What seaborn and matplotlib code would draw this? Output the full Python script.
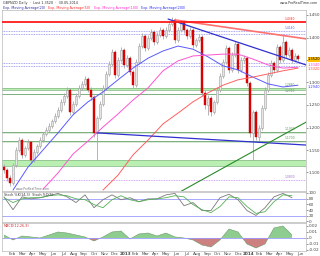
import numpy as np
import pandas as pd
import matplotlib
matplotlib.use("Agg")
import matplotlib.pyplot as plt
import seaborn as sns

# ---------------- data ----------------
opens = [1.112, 1.106, 1.088, 1.077, 1.117, 1.150, 1.172, 1.139, 1.154, 1.168,
         1.128, 1.146, 1.159, 1.172, 1.186, 1.194, 1.203, 1.214, 1.226, 1.239,
         1.257, 1.270, 1.283, 1.234, 1.252, 1.270, 1.288, 1.297, 1.308, 1.283,
         1.268, 1.188, 1.221, 1.252, 1.288, 1.319, 1.341, 1.368, 1.317, 1.350,
         1.372, 1.339, 1.354, 1.323, 1.294, 1.346, 1.381, 1.403, 1.377, 1.399,
         1.412, 1.390, 1.406, 1.417, 1.403, 1.417, 1.430, 1.439, 1.394, 1.417,
         1.434, 1.417, 1.403, 1.417, 1.383, 1.394, 1.401, 1.277, 1.250, 1.266,
         1.234, 1.257, 1.283, 1.314, 1.346, 1.377, 1.328, 1.361, 1.386, 1.328,
         1.350, 1.354, 1.299, 1.188, 1.234, 1.179, 1.199, 1.243, 1.283, 1.317,
         1.343, 1.328, 1.379, 1.350, 1.390, 1.361, 1.372, 1.350, 1.359]
closes = [1.106, 1.088, 1.077, 1.117, 1.150, 1.172, 1.139, 1.154, 1.168, 1.128,
          1.146, 1.159, 1.172, 1.186, 1.194, 1.203, 1.214, 1.226, 1.239, 1.257,
          1.270, 1.283, 1.234, 1.252, 1.270, 1.288, 1.297, 1.308, 1.283, 1.268,
          1.188, 1.221, 1.252, 1.288, 1.319, 1.341, 1.368, 1.317, 1.350, 1.372,
          1.339, 1.354, 1.323, 1.294, 1.346, 1.381, 1.403, 1.377, 1.399, 1.412,
          1.390, 1.406, 1.417, 1.403, 1.417, 1.430, 1.439, 1.394, 1.417, 1.434,
          1.417, 1.403, 1.417, 1.383, 1.394, 1.401, 1.277, 1.250, 1.266, 1.234,
          1.257, 1.283, 1.314, 1.346, 1.377, 1.328, 1.361, 1.386, 1.328, 1.350,
          1.354, 1.299, 1.188, 1.234, 1.179, 1.199, 1.243, 1.283, 1.317, 1.343,
          1.328, 1.379, 1.350, 1.390, 1.361, 1.372, 1.350, 1.359, 1.352]
highs = [1.118, 1.110, 1.094, 1.122, 1.156, 1.178, 1.176, 1.160, 1.174, 1.171,
         1.152, 1.164, 1.178, 1.191, 1.201, 1.209, 1.220, 1.232, 1.245, 1.263,
         1.276, 1.290, 1.288, 1.258, 1.276, 1.294, 1.304, 1.314, 1.312, 1.289,
         1.272, 1.226, 1.258, 1.294, 1.325, 1.347, 1.374, 1.372, 1.356, 1.379,
         1.376, 1.360, 1.358, 1.327, 1.352, 1.387, 1.409, 1.408, 1.405, 1.418,
         1.416, 1.412, 1.423, 1.421, 1.423, 1.436, 1.446, 1.444, 1.423, 1.440,
         1.438, 1.421, 1.423, 1.421, 1.400, 1.407, 1.405, 1.283, 1.272, 1.270,
         1.262, 1.289, 1.320, 1.352, 1.384, 1.382, 1.367, 1.393, 1.390, 1.356,
         1.361, 1.358, 1.303, 1.240, 1.238, 1.205, 1.249, 1.289, 1.323, 1.349,
         1.348, 1.385, 1.384, 1.408, 1.395, 1.378, 1.376, 1.365, 1.364]
lows = [1.099, 1.082, 1.070, 1.073, 1.112, 1.145, 1.133, 1.135, 1.149, 1.122,
        1.124, 1.141, 1.155, 1.168, 1.181, 1.189, 1.198, 1.209, 1.221, 1.234,
        1.251, 1.265, 1.228, 1.230, 1.247, 1.266, 1.283, 1.292, 1.278, 1.262,
        1.180, 1.128, 1.216, 1.247, 1.283, 1.314, 1.336, 1.311, 1.312, 1.345,
        1.333, 1.334, 1.317, 1.288, 1.290, 1.341, 1.376, 1.371, 1.372, 1.394,
        1.384, 1.385, 1.401, 1.397, 1.398, 1.412, 1.425, 1.388, 1.389, 1.412,
        1.411, 1.397, 1.398, 1.377, 1.378, 1.389, 1.270, 1.241, 1.228, 1.226,
        1.229, 1.252, 1.278, 1.309, 1.341, 1.322, 1.323, 1.356, 1.322, 1.323,
        1.344, 1.292, 1.180, 1.128, 1.172, 1.170, 1.194, 1.238, 1.278, 1.312,
        1.322, 1.323, 1.344, 1.345, 1.355, 1.356, 1.344, 1.345, 1.347]

ema_blue_idx = [3, 8, 13, 18, 23, 28, 33, 38, 43, 48, 53, 58, 63, 68, 73, 78, 83, 88, 93, 98]
ema_blue = [1.061, 1.112, 1.150, 1.188, 1.228, 1.257, 1.279, 1.306, 1.332, 1.354,
            1.370, 1.381, 1.374, 1.357, 1.337, 1.328, 1.312, 1.297, 1.290, 1.294]
ema_pink_idx = [13, 18, 23, 28, 33, 38, 43, 48, 53, 58, 63, 68, 73, 78, 83, 88, 93, 98]
ema_pink = [1.063, 1.099, 1.141, 1.170, 1.201, 1.230, 1.261, 1.288, 1.326, 1.348,
            1.359, 1.361, 1.363, 1.363, 1.352, 1.339, 1.332, 1.334]
ema_red_idx = [33, 38, 43, 48, 53, 58, 63, 68, 73, 78, 83, 88, 93, 98]
ema_red = [1.061, 1.094, 1.139, 1.172, 1.208, 1.232, 1.257, 1.277, 1.294, 1.306,
           1.312, 1.319, 1.326, 1.332]

osc_idx = list(range(0, 97, 3))
stoch_k = [86, 41, 86, 79, 83, 90, 98, 86, 66, 93, 48, 76, 93, 76, 83, 69, 79,
           79, 93, 98, 55, 66, 38, 38, 83, 95, 76, 38, 21, 48, 86, 98, 83]
stoch_d = [83, 66, 79, 83, 83, 90, 93, 90, 79, 76, 59, 48, 76, 90, 76, 69, 76,
           79, 83, 90, 86, 59, 41, 31, 52, 86, 83, 52, 28, 34, 69, 93, 90]
macd = [0.005, -0.0033, 0.0033, 0.0017, 0.0, 0.005, 0.010, 0.0083, 0.005, 0.0017,
        -0.005, 0.0017, 0.010, 0.0117, -0.0017, 0.0067, 0.0083, 0.0033, 0.0083,
        0.0017, 0.0, -0.0033, -0.0117, -0.015, -0.0033, 0.015, 0.010, -0.010,
        -0.0167, -0.010, 0.0167, 0.020, 0.005]

# horizontal levels
red_level = 1.434
blue_dotted = [1.414, 1.407, 1.343, 1.337]
green_band_hi = [1.288, 1.128]
green_band_lo = [1.283, 1.114]
green_lines = [1.274, 1.190, 1.170]
purple_level = 1.083
# trend lines (candle index, price)
tl_blue_top = ([54.7, 100.7], [1.441, 1.339])
tl_red_top = ([57.0, 100.7], [1.439, 1.397])
tl_blue_low = ([31.0, 100.7], [1.188, 1.161])
tl_green = ([58.7, 100.7], [1.057, 1.212])

price_ticks = [1.450, 1.400, 1.350, 1.300, 1.250, 1.200, 1.150, 1.100]
month_labels = ["Feb", "Mar", "Apr", "May", "Jun", "Jul", "Aug", "Sep", "Oct", "Nov", "Dec",
                "2013", "Feb", "Mar", "Apr", "May", "Jun", "Jul", "Aug", "Sep", "Oct", "Nov", "Dec",
                "2014", "Feb", "Mar", "Apr", "May", "Jun"]

# ---------------- style ----------------
sns.set_theme(style="white")
plt.rcParams['font.family'] = ['DejaVu Sans']

W, H = 320, 256
fig = plt.figure(figsize=(W / 100, H / 100), dpi=100)

def frac(x0, y0, x1, y1):
    return [x0 / W, 1 - y1 / H, (x1 - x0) / W, (y1 - y0) / H]

ax = fig.add_axes(frac(2, 10, 306, 191))
ax_st = fig.add_axes(frac(2, 192, 306, 222), sharex=ax)
ax_m = fig.add_axes(frac(2, 223, 306, 251), sharex=ax)

XL = (-0.67, 100.67)
px_per_idx = 3.0

df = pd.DataFrame({"i": np.arange(len(closes)), "o": opens, "h": highs, "l": lows, "c": closes})
up = df["c"] >= df["o"]

# levels and bands (behind candles)
for hi, lo in zip(green_band_hi, green_band_lo):
    ax.axhspan(lo, hi, color="#b9efb0", lw=0, zorder=0.5)
    ax.axhline(hi, color="#8fbf8f", lw=0.6, zorder=0.6)
    ax.axhline(lo, color="#8fbf8f", lw=0.6, zorder=0.6)
for g in green_lines:
    ax.axhline(g, color="#7fb07f", lw=0.7, zorder=0.6)
ax.axhspan(1.166, 1.170, color="#d8ead8", lw=0, zorder=0.5)
ax.axhspan(1.186, 1.190, color="#d8ead8", lw=0, zorder=0.5)
for b in blue_dotted:
    ax.axhline(b, color="#8c8cf0", lw=0.6, ls=(0, (1, 1)), zorder=0.6)
ax.axhline(purple_level, color="#c58cf5", lw=0.6, ls=(0, (1, 1)), zorder=0.6)
ax.axhline(red_level, color="#ff1a1a", lw=1.3, zorder=3)

# candles
ax.vlines(df["i"], df["l"], df["h"], color="#a8a8a8", lw=0.6, zorder=1)
body_lo = np.minimum(df["o"], df["c"])
body_h = np.abs(df["c"] - df["o"]).clip(lower=0.0012)
ax.bar(df["i"][up], body_h[up], bottom=body_lo[up], width=0.7,
       color="#e6e6e6", edgecolor="#a0a0a0", linewidth=0.4, zorder=2)
ax.bar(df["i"][~up], body_h[~up], bottom=body_lo[~up], width=0.7,
       color="#e50000", edgecolor="#c00000", linewidth=0.3, zorder=2)

# moving averages via seaborn
sns.lineplot(x=ema_blue_idx, y=ema_blue, ax=ax, color="#5a5aff", lw=0.7, zorder=2.5)
sns.lineplot(x=ema_pink_idx, y=ema_pink, ax=ax, color="#ff55d0", lw=0.7, zorder=2.5)
sns.lineplot(x=ema_red_idx, y=ema_red, ax=ax, color="#ff6060", lw=0.7, zorder=2.5)

# trend lines
ax.plot(*tl_red_top, color="#ff7070", lw=1.2, zorder=2.6)
ax.plot(*tl_blue_top, color="#3030d0", lw=0.9, zorder=2.7)
ax.plot(*tl_blue_low, color="#3030d0", lw=0.9, zorder=2.7)
ax.plot(*tl_green, color="#2a8a2a", lw=0.8, zorder=2.7)

ax.set_xlim(*XL)
ax.set_ylim(1.450 - 176 / 450, 1.450 + 5 / 450)

# right axis
for a in (ax, ax_st, ax_m):
    a.yaxis.tick_right()
    a.tick_params(axis="y", labelsize=3, length=1.2, pad=0.8, colors="#444444", width=0.4)
    a.tick_params(axis="x", labelsize=3, length=0, pad=0.8, colors="#444444")
    for s in a.spines.values():
        s.set_color("#b8b8b8")
        s.set_linewidth(0.5)
ax.set_yticks(price_ticks)
ax.set_yticklabels([f"{t:.3f}" for t in price_ticks])
plt.setp(ax.get_xticklabels(), visible=False)
plt.setp(ax_st.get_xticklabels(), visible=False)

# level tags
tag_fs = 2.2
ax.text(97, red_level + 0.002, "1.4340", color="#ff1a1a", fontsize=tag_fs, ha="right", va="bottom")
ax.text(97, 1.414 + 0.002, "1.4140", color="#6060e0", fontsize=tag_fs, ha="right", va="bottom")
ax.text(97, 1.288 + 0.002, "1.2880", color="#5a9a5a", fontsize=tag_fs, ha="right", va="bottom")
ax.text(97, 1.274 + 0.002, "1.2740", color="#5a9a5a", fontsize=tag_fs, ha="right", va="bottom")
ax.text(97, 1.190 + 0.002, "1.1900", color="#5a9a5a", fontsize=tag_fs, ha="right", va="bottom")
ax.text(97, 1.170 + 0.002, "1.1700", color="#5a9a5a", fontsize=tag_fs, ha="right", va="bottom")
ax.text(97, purple_level + 0.002, "1.0830", color="#a070d0", fontsize=tag_fs, ha="right", va="bottom")
ax.text(4, 1.064, "www.ProRealTime.com", color="#777777", fontsize=2.2, ha="left", va="center")

# value boxes on right axis
def vbox(a, y, txt, fc, tc="black"):
    a.annotate(txt, xy=(1.0, y), xycoords=("axes fraction", "data"), xytext=(1.5, 0),
               textcoords="offset points", fontsize=2.6, color=tc, va="center", ha="left",
               bbox=dict(boxstyle="square,pad=0.15", fc=fc, ec="none"), annotation_clip=False)

vbox(ax, closes[-1], f"{closes[-1]:.4f}", "#ffc000")
vbox(ax, ema_pink[-1] + 0.004, f"{ema_pink[-1]:.4f}", "white", "#ff40c0")
vbox(ax, ema_red[-1] - 0.003, f"{ema_red[-1]:.4f}", "white", "#ff4040")
vbox(ax, ema_blue[-1] - 0.004, f"{ema_blue[-1]:.4f}", "white", "#4040ff")

# stochastic panel
ax_st.axhline(80, color="#9a9aff", lw=0.6)
ax_st.axhline(20, color="#9a9aff", lw=0.6)
sns.lineplot(x=osc_idx, y=stoch_k, ax=ax_st, color="#7a7a7a", lw=0.6)
sns.lineplot(x=osc_idx, y=stoch_d, ax=ax_st, color="#55b055", lw=0.6)
ax_st.set_ylim(-2, 103)
ax_st.set_yticks([100, 80, 60, 40, 20, 0])
ax_st.set_yticklabels(["100", "80", "60", "40", "20", "0"])
ax_st.text(0.005, 0.97, "Stoch %K(14,3)  Stoch %D(5)", transform=ax_st.transAxes,
           fontsize=2.4, color="#333333", va="top", ha="left")

# MACD panel
mx = np.array(osc_idx, dtype=float)
mv = np.array(macd)
ax_m.fill_between(mx, 0, mv, where=mv >= 0, interpolate=True, color="#7cc47c", lw=0, alpha=0.85)
ax_m.fill_between(mx, 0, mv, where=mv < 0, interpolate=True, color="#c46a6a", lw=0, alpha=0.85)
sns.lineplot(x=mx, y=mv, ax=ax_m, color="#6a9a6a", lw=0.4)
ax_m.axhline(0, color="#9a9aff", lw=0.6)
ax_m.set_ylim(-0.0217, 0.025)
ax_m.set_yticks([0.02, 0.01, 0.0, -0.01, -0.02])
ax_m.set_yticklabels(["0.02", "0.01", "0", "-0.01", "-0.02"])
ax_m.text(0.005, 0.97, "MACD(12,26,9)", transform=ax_m.transAxes,
          fontsize=2.4, color="#cc3333", va="top", ha="left")

# x ticks: month positions
month_px = [1.7 + 10.29 * m for m in range(1, len(month_labels) + 1)]
month_pos = [(p - 4) / px_per_idx for p in month_px]
ax_m.set_xticks(month_pos)
ax_m.set_xticklabels(month_labels)
for lbl in ax_m.get_xticklabels():
    if lbl.get_text() in ("2013", "2014"):
        lbl.set_fontweight("bold")
ax_m.set_xlim(*XL)
for a in (ax, ax_st, ax_m):
    a.set_xlabel("")
    a.set_ylabel("")
    if a.get_legend():
        a.get_legend().remove()

# header
fig.text(3 / W, 1 - 3 / H, "GBPNZD Daily  ·  Last 1.3520  ·  30.05.2014", fontsize=2.4,
         color="#333333", va="center", ha="left")
fig.text(318 / W, 1 - 3 / H, "www.ProRealTime.com", fontsize=2.4, color="#333333",
         va="center", ha="right")
renderer = fig.canvas.get_renderer()
hx = 3.0
parts = [("Exp. Moving Average(20)", "#3333aa"), ("Exp. Moving Average(50)", "#ff3333"),
         ("Exp. Moving Average(100)", "#ff33cc"), ("Exp. Moving Average(200)", "#3333ff")]
for txt, col in parts:
    t = fig.text(hx / W, 1 - 7.5 / H, txt, fontsize=2.4, color=col, va="center", ha="left")
    bb = t.get_window_extent(renderer=renderer)
    hx += bb.width + 3

fig.savefig("out.png", dpi=100, facecolor="white")
